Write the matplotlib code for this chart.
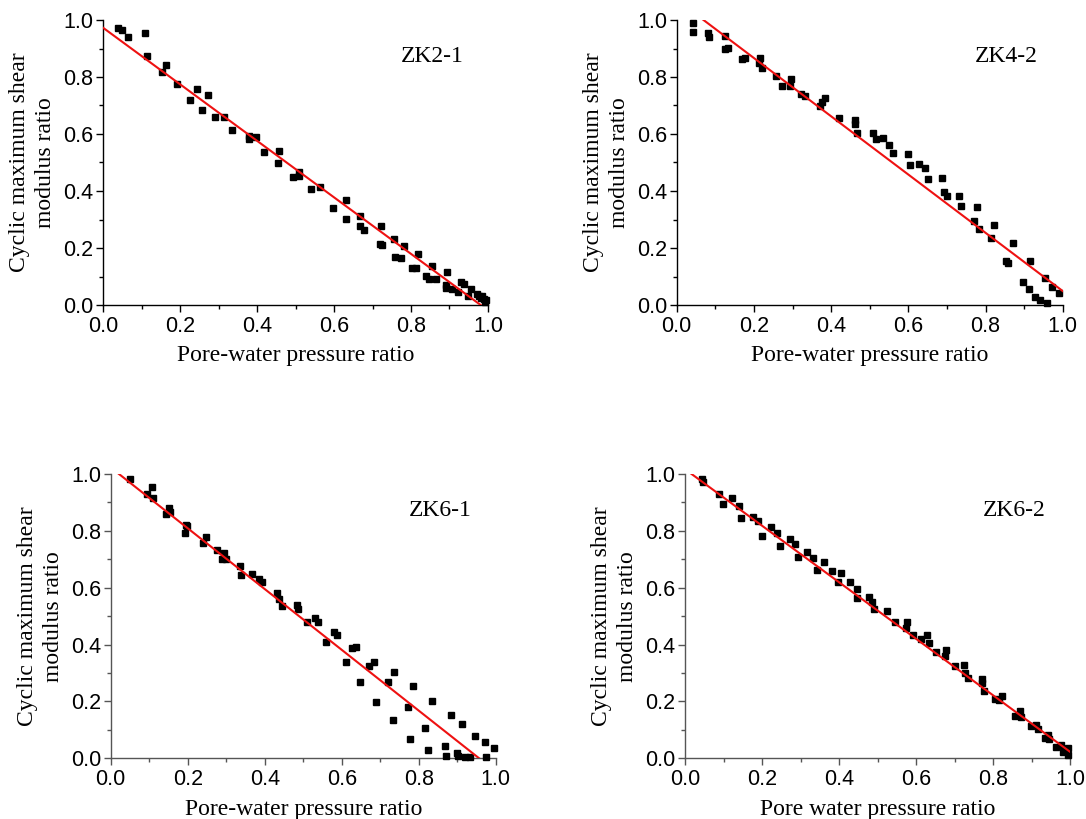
import matplotlib
matplotlib.use("Agg")
import matplotlib.pyplot as plt
import numpy as np
from matplotlib.ticker import MultipleLocator

# ---- data ----
zk21_x = [0.040, 0.050, 0.065, 0.109, 0.115, 0.152, 0.164, 0.193, 0.227, 0.243, 0.258, 0.272,
          0.292, 0.314, 0.334, 0.378, 0.378, 0.397, 0.417, 0.455, 0.457, 0.494, 0.509, 0.509,
          0.539, 0.564, 0.597, 0.630, 0.632, 0.668, 0.668, 0.677, 0.722, 0.719, 0.724, 0.755,
          0.759, 0.774, 0.783, 0.803, 0.812, 0.819, 0.840, 0.848, 0.855, 0.864, 0.890, 0.894,
          0.892, 0.906, 0.921, 0.930, 0.937, 0.949, 0.956, 0.972, 0.977, 0.985, 0.990, 0.992,
          0.982, 0.995]
zk21_y = [0.971, 0.965, 0.940, 0.956, 0.874, 0.816, 0.843, 0.775, 0.718, 0.757, 0.685, 0.736,
          0.658, 0.661, 0.615, 0.594, 0.582, 0.588, 0.536, 0.497, 0.539, 0.448, 0.468, 0.454,
          0.406, 0.413, 0.342, 0.370, 0.302, 0.313, 0.278, 0.264, 0.278, 0.215, 0.211, 0.233,
          0.168, 0.164, 0.206, 0.130, 0.130, 0.180, 0.101, 0.091, 0.136, 0.091, 0.069, 0.115,
          0.058, 0.057, 0.044, 0.080, 0.073, 0.032, 0.057, 0.037, 0.030, 0.032, 0.021, 0.012,
          0.025, 0.018]

zk42_x = [0.041, 0.041, 0.082, 0.084, 0.125, 0.125, 0.133, 0.170, 0.177, 0.216, 0.213, 0.222,
          0.256, 0.272, 0.297, 0.294, 0.323, 0.332, 0.372, 0.377, 0.385, 0.420, 0.461, 0.463,
          0.468, 0.508, 0.516, 0.535, 0.550, 0.561, 0.598, 0.604, 0.627, 0.642, 0.652, 0.687,
          0.693, 0.701, 0.731, 0.737, 0.769, 0.779, 0.782, 0.813, 0.823, 0.853, 0.859, 0.872,
          0.898, 0.913, 0.914, 0.928, 0.941, 0.959, 0.954, 0.972, 0.991]
zk42_y = [0.988, 0.959, 0.956, 0.939, 0.944, 0.898, 0.903, 0.862, 0.867, 0.865, 0.848, 0.830,
          0.804, 0.768, 0.794, 0.768, 0.740, 0.735, 0.698, 0.713, 0.725, 0.657, 0.649, 0.634,
          0.602, 0.605, 0.581, 0.585, 0.561, 0.532, 0.530, 0.490, 0.494, 0.482, 0.442, 0.444,
          0.395, 0.381, 0.381, 0.347, 0.296, 0.345, 0.265, 0.234, 0.281, 0.154, 0.146, 0.219,
          0.082, 0.055, 0.153, 0.029, 0.018, 0.008, 0.096, 0.062, 0.041]

zk61_x = [0.050, 0.095, 0.107, 0.109, 0.144, 0.152, 0.154, 0.195, 0.193, 0.199, 0.239, 0.247,
          0.277, 0.293, 0.290, 0.300, 0.337, 0.339, 0.367, 0.384, 0.394, 0.433, 0.436, 0.446,
          0.484, 0.487, 0.509, 0.531, 0.539, 0.558, 0.580, 0.587, 0.612, 0.626, 0.637, 0.648,
          0.672, 0.685, 0.688, 0.721, 0.733, 0.735, 0.771, 0.777, 0.785, 0.817, 0.825, 0.835,
          0.869, 0.872, 0.884, 0.899, 0.902, 0.913, 0.920, 0.933, 0.947, 0.971, 0.976, 0.996]
zk61_y = [0.984, 0.928, 0.953, 0.917, 0.859, 0.882, 0.865, 0.820, 0.791, 0.818, 0.756, 0.779,
          0.732, 0.723, 0.702, 0.702, 0.677, 0.643, 0.647, 0.630, 0.619, 0.583, 0.562, 0.537,
          0.539, 0.525, 0.480, 0.494, 0.480, 0.410, 0.443, 0.434, 0.340, 0.389, 0.390, 0.267,
          0.326, 0.340, 0.197, 0.267, 0.135, 0.302, 0.182, 0.068, 0.255, 0.105, 0.029, 0.202,
          0.042, 0.008, 0.152, 0.020, 0.008, 0.120, 0.006, 0.006, 0.080, 0.056, 0.005, 0.035]

zk62_x = [0.043, 0.047, 0.089, 0.099, 0.121, 0.139, 0.146, 0.177, 0.189, 0.201, 0.223, 0.238,
          0.248, 0.274, 0.287, 0.293, 0.318, 0.332, 0.344, 0.361, 0.381, 0.397, 0.404, 0.429,
          0.446, 0.448, 0.478, 0.485, 0.492, 0.525, 0.545, 0.577, 0.573, 0.593, 0.613, 0.628,
          0.635, 0.653, 0.677, 0.676, 0.701, 0.725, 0.726, 0.736, 0.772, 0.772, 0.777, 0.805,
          0.816, 0.823, 0.858, 0.870, 0.873, 0.898, 0.912, 0.916, 0.935, 0.944, 0.945, 0.963,
          0.976, 0.981, 0.994, 0.994]
zk62_y = [0.984, 0.972, 0.929, 0.894, 0.917, 0.887, 0.845, 0.849, 0.835, 0.783, 0.812, 0.791,
          0.748, 0.771, 0.753, 0.708, 0.726, 0.703, 0.663, 0.689, 0.658, 0.621, 0.653, 0.620,
          0.594, 0.565, 0.568, 0.551, 0.525, 0.518, 0.480, 0.478, 0.459, 0.434, 0.418, 0.434,
          0.405, 0.375, 0.381, 0.361, 0.326, 0.327, 0.299, 0.282, 0.278, 0.264, 0.238, 0.209,
          0.205, 0.219, 0.149, 0.168, 0.144, 0.114, 0.117, 0.102, 0.070, 0.082, 0.067, 0.039,
          0.047, 0.023, 0.035, 0.012]

# fitted lines: intercept, slope
fit_int = [0.973, 1.071, 1.023, 1.017]
fit_slope = [-0.992, -1.022, -1.069, -0.994]
fit_xmax = [0.981, 1.0, 0.957, 1.0]

labels = ["ZK2-1", "ZK4-2", "ZK6-1", "ZK6-2"]
xlabels = ["Pore-water pressure ratio", "Pore-water pressure ratio",
           "Pore-water pressure ratio", "Pore water pressure ratio"]
ylabel = "Cyclic maximum shear\nmodulus ratio"

xs = [zk21_x, zk42_x, zk61_x, zk62_x]
ys = [zk21_y, zk42_y, zk61_y, zk62_y]

fig = plt.figure(figsize=(10.86, 8.19), dpi=100)
W, H = 1086, 819
boxes = [(103, 20, 488, 305), (676.7, 20, 1062.7, 305),
         (110.7, 474, 495.7, 758.3), (685, 474, 1070, 758.3)]
spine_cols = ["black", "black", "#555555", "#555555"]

for i in range(4):
    l, t, r, b = boxes[i]
    ax = fig.add_axes([l / W, 1 - b / H, (r - l) / W, (b - t) / H])
    ax.plot(xs[i], ys[i], 's', color='black', markersize=4.8, zorder=3, clip_on=False)
    lx = np.array([0.0, fit_xmax[i]])
    ax.plot(lx, fit_int[i] + fit_slope[i] * lx, '-', color='#ee1111', lw=1.5, zorder=4)
    ax.set_xlim(0, 1)
    ax.set_ylim(0, 1)
    for s in ['top', 'right']:
        ax.spines[s].set_visible(False)
    for s in ['left', 'bottom']:
        ax.spines[s].set_color(spine_cols[i])
        ax.spines[s].set_linewidth(1.0)
    ax.xaxis.set_major_locator(MultipleLocator(0.2))
    ax.xaxis.set_minor_locator(MultipleLocator(0.1))
    ax.yaxis.set_major_locator(MultipleLocator(0.2))
    ax.yaxis.set_minor_locator(MultipleLocator(0.1))
    ax.xaxis.set_major_formatter(plt.FuncFormatter(lambda v, p: f"{v:.1f}"))
    ax.yaxis.set_major_formatter(plt.FuncFormatter(lambda v, p: f"{v:.1f}"))
    ax.tick_params(which='major', direction='out', length=5, width=1, colors=spine_cols[i],
                   labelcolor='black', labelsize=15.5, pad=2,
                   labelfontfamily='Liberation Sans')
    ax.tick_params(axis='x', which='major', pad=3)
    ax.tick_params(which='minor', direction='out', length=3, width=1, colors=spine_cols[i])
    ax.set_xlabel(xlabels[i], family='Liberation Serif', fontsize=17, labelpad=6)
    ax.set_ylabel(ylabel, family='Liberation Serif', fontsize=17, labelpad=5,
                  linespacing=1.3)
    ax.text(0.855, 0.872, labels[i], transform=ax.transAxes, family='Liberation Serif',
            fontsize=17, ha='center', va='center')

fig.savefig("out.png", dpi=100)
